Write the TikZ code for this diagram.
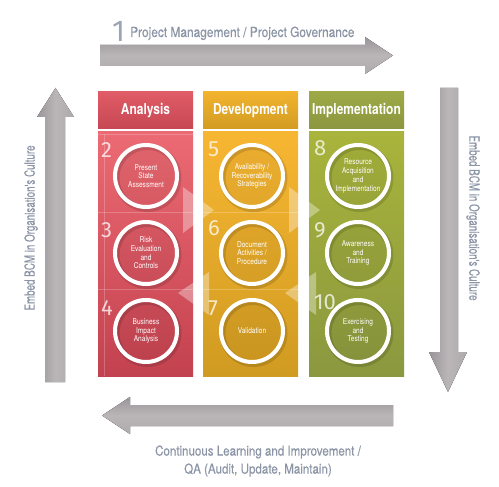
\documentclass[tikz,border=0pt]{standalone}
\usepackage{fontspec}
\setmainfont{TeX Gyre Heros}
\newfontfamily\cond{TeX Gyre Heros}[FakeStretch=0.8]
\newfontfamily\condtxt{TeX Gyre Heros}[FakeStretch=0.85, FakeBold=0.35]
\newfontfamily\condside{TeX Gyre Heros}[FakeStretch=0.7, FakeBold=0.35]
\newfontfamily\condring{TeX Gyre Heros}[FakeStretch=0.82]
\newfontfamily\thinfont{Fira Sans}
\usetikzlibrary{calc}
\definecolor{txtgray}{HTML}{8C95A6}
\definecolor{arrA}{HTML}{9A9598}
\definecolor{arrB}{HTML}{BAB6B8}
\definecolor{anaHT}{HTML}{E05C66}
\definecolor{anaHB}{HTML}{C64753}
\definecolor{anaT}{HTML}{EC6A73}
\definecolor{anaB}{HTML}{C3424F}
\definecolor{devHT}{HTML}{F2B32E}
\definecolor{devHB}{HTML}{D29C22}
\definecolor{devT}{HTML}{F7B632}
\definecolor{devB}{HTML}{D09B21}
\definecolor{impHT}{HTML}{9EA946}
\definecolor{impHB}{HTML}{8B963F}
\definecolor{impT}{HTML}{A8B43B}
\definecolor{impB}{HTML}{8B983F}
\tikzset{
  hdr/.style={font=\cond\bfseries\fontsize{15}{15}\selectfont, text=white},
  ring/.style={circle, draw=white, line width=4pt, minimum size=62pt, inner sep=0pt,
    text=white, align=center, font=\condring\fontsize{8}{8.7}\selectfont},
  ringshadow/.style={draw=black, draw opacity=0.13, line width=6pt},
  num/.style={font=\thinfont\fontsize{22}{22}\selectfont, text=white, text opacity=0.75, anchor=base west, inner sep=0pt},
  tri/.style={fill=white, fill opacity=0.35},
  grid/.style={draw=white, draw opacity=0.22, line width=0.6pt},
  side/.style={font=\condside\fontsize{14}{14}\selectfont, text=txtgray},
  gtxt/.style={font=\condtxt\fontsize{14}{18}\selectfont, text=txtgray},
}
\newcommand\ringat[4]{%
  \draw[ringshadow] (#2+1.5,#3+2) circle (31);
  \fill[black, opacity=0.04] (#2,#3) circle (29);
  \node[ring] (#1) at (#2,#3) {#4};
}
\begin{document}
\begin{tikzpicture}[x=1pt,y=-1pt]
\useasboundingbox (0,0) rectangle (499,487);
\fill[white] (0,0) rectangle (499,487);

% big arrows
\fill[top color=arrA, bottom color=arrA!80!white, middle color=arrB]
  (100,45) -- (365,45) -- (365,37) -- (393,55.5) -- (365,74) -- (365,66) -- (100,66) -- cycle;
\fill[left color=arrA, right color=arrA!80!white, middle color=arrB]
  (440,88) -- (458,88) -- (458,352) -- (467,352) -- (448,392) -- (429,352) -- (440,352) -- cycle;
\fill[top color=arrA, bottom color=arrA!80!white, middle color=arrB]
  (393,405) -- (130,405) -- (130,397) -- (102,415.5) -- (130,434) -- (130,426) -- (393,426) -- cycle;
\fill[left color=arrA, right color=arrA!80!white, middle color=arrB]
  (45,382) -- (45,117) -- (37,117) -- (55.5,88) -- (74,117) -- (65,117) -- (65,382) -- cycle;

% arrow labels
\node[font=\thinfont\fontsize{30}{30}\selectfont, text=txtgray, text opacity=0.85, anchor=base, inner sep=0pt] (n1) at (118.5,42) {1};
\node[gtxt, anchor=base west, inner sep=0pt] (pm) at (130,37) {Project Management / Project Governance};
\node[side, rotate=90] (embL) at (31,228) {Embed BCM in Organisation's Culture};
\node[side, rotate=-90] (embR) at (473,218) {Embed BCM in Organisation's Culture};
\node[gtxt, align=center, font=\condtxt\fontsize{13.6}{18}\selectfont] (cl) at (258,461) {Continuous Learning and Improvement /\\QA (Audit, Update, Maintain)};

% column headers
\fill[top color=anaHT, bottom color=anaHB] (98,92) rectangle (193,129);
\fill[top color=devHT, bottom color=devHB] (203,92) rectangle (298,129);
\fill[top color=impHT, bottom color=impHB] (309,92) rectangle (404,129);
\node[hdr] (hA) at (145.5,110.5) {Analysis};
\node[hdr] (hD) at (250.5,110.5) {Development};
\node[hdr] (hI) at (356.5,110.5) {Implementation};

% column bodies
\fill[top color=anaT, bottom color=anaB] (98,132) rectangle (193,376);
\fill[top color=devT, bottom color=devB] (203,132) rectangle (298,376);
\fill[top color=impT, bottom color=impB] (309,132) rectangle (404,376);

% faint grid
\draw[grid] (104,134) -- (104,376);
\draw[grid] (98,134) -- (193,134);
\draw[grid] (98,212) -- (193,212);
\draw[grid] (98,289) -- (193,289);
\draw[grid] (203,212) -- (298,212);
\draw[grid] (203,289) -- (298,289);

% flow triangles
\fill[tri] (183,187) -- (214,210) -- (183,233) -- cycle;
\fill[tri] (289,187) -- (320,210) -- (289,233) -- cycle;
\fill[tri] (209,272) -- (178,293) -- (209,315) -- cycle;
\fill[tri] (316,272) -- (285,293) -- (316,315) -- cycle;

% circles
\ringat{c2}{146}{176}{Present\\State\\Assessment}
\ringat{c3}{146}{253}{Risk\\Evaluation\\and\\Controls}
\ringat{c4}{146}{331}{Business\\Impact\\Analysis}
\ringat{c5}{252}{176}{Availability /\\Recoverability\\Strategies}
\ringat{c6}{252}{253}{Document\\Activities /\\Procedure}
\ringat{c7}{252}{331}{Validation}
\ringat{c8}{358}{176}{Resource\\Acquisition\\and\\Implementation}
\ringat{c9}{358}{253}{Awareness\\and\\Training}
\ringat{c10}{358}{331}{Exercising\\and\\Testing}

% numbers
\node[num] (k2) at (101,158) {2};
\node[num] (k3) at (101,237) {3};
\node[num] (k4) at (101,316) {4};
\node[num] (k5) at (208,157) {5};
\node[num] (k6) at (208,236) {6};
\node[num] (k7) at (208,316) {7};
\node[num] (k8) at (314,156) {8};
\node[num] (k9) at (314,237) {9};
\node[num] (k10) at (314,309) {10};
\end{tikzpicture}
\end{document}
